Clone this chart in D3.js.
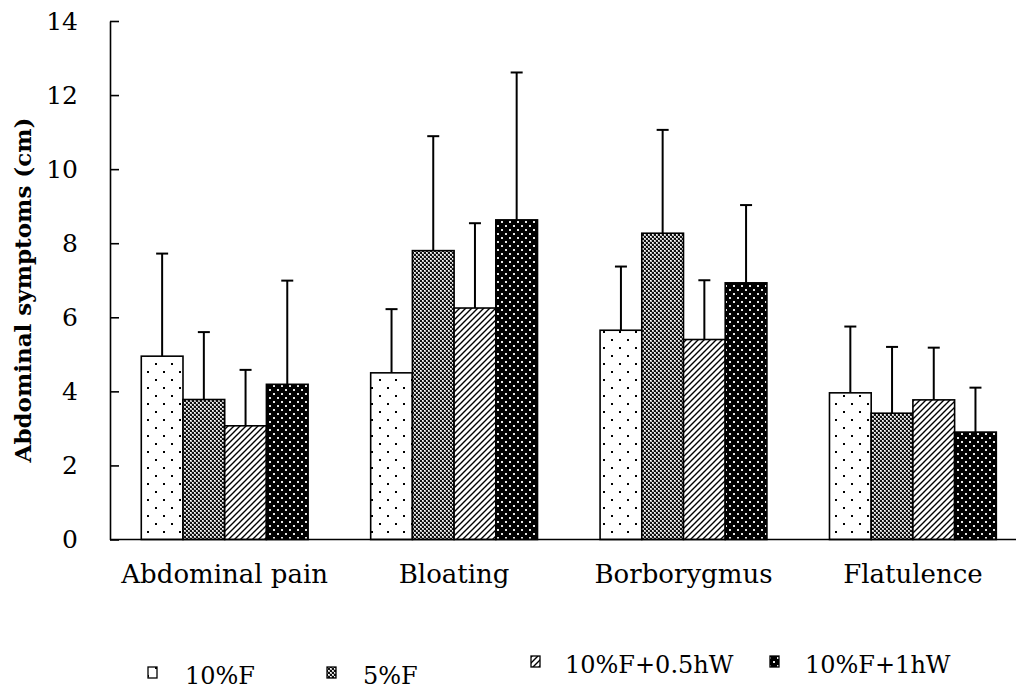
<!DOCTYPE html>
<html>
<head>
<meta charset="utf-8">
<script src="https://cdn.jsdelivr.net/npm/d3@7"></script>
<style>
  html, body { margin: 0; padding: 0; background: #fff; }
  svg { display: block; font-family: "DejaVu Serif", "Liberation Serif", serif; }
</style>
</head>
<body>
<svg id="chart" width="1016" height="692"></svg>
<script>
// Symptom categories and treatment groups
const categories = ["Abdominal pain", "Bloating", "Borborygmus", "Flatulence"];
const seriesNames = ["10%F", "5%F", "10%F+0.5hW", "10%F+1hW"];

// Mean scores (cm) per series, in category order
const means10F      = [4.95, 4.50, 5.65, 3.96];
const means5F       = [3.78, 7.80, 8.27, 3.41];
const means10F05hW  = [3.07, 6.25, 5.40, 3.77];
const means10F1hW   = [4.19, 8.63, 6.93, 2.90];

// Standard deviations (upper error bars)
const sd10F      = [2.77, 1.72, 1.72, 1.79];
const sd5F       = [1.82, 3.09, 2.79, 1.79];
const sd10F05hW  = [1.51, 2.29, 1.60, 1.41];
const sd10F1hW   = [2.80, 3.98, 2.10, 1.20];

const yTicks = [0, 2, 4, 6, 8, 10, 12, 14];

const meanSets = [means10F, means5F, means10F05hW, means10F1hW];
const sdSets = [sd10F, sd5F, sd10F05hW, sd10F1hW];

const rows = [];
categories.forEach((c, ci) => {
  seriesNames.forEach((s, si) => {
    rows.push({ category: c, series: s, si, mean: meanSets[si][ci], sd: sdSets[si][ci] });
  });
});

const svg = d3.select("#chart");
const axisX = 110, axisY0 = 539.5, axisTop = 21;
const groupStep = 229.4;

const x0 = d3.scaleBand().domain(categories)
  .range([axisX, axisX + groupStep * categories.length])
  .paddingInner(0).paddingOuter(0);
const x1 = d3.scaleBand().domain(seriesNames)
  .range([0, x0.bandwidth()])
  .paddingInner(0).paddingOuter(0.75);
const y = d3.scaleLinear().domain([0, 14]).range([axisY0, axisTop]);

// Fill patterns for the four groups
const defs = svg.append("defs");

// sparse dots on white
const pDots = defs.append("pattern").attr("id", "pat0")
  .attr("patternUnits", "userSpaceOnUse").attr("width", 16).attr("height", 16);
pDots.append("rect").attr("width", 16).attr("height", 16).attr("fill", "#fff");
pDots.append("rect").attr("x", 3).attr("y", 3).attr("width", 2).attr("height", 2).attr("fill", "#000");
pDots.append("rect").attr("x", 11).attr("y", 11).attr("width", 2).attr("height", 2).attr("fill", "#000");

// fine checker
const pCheck = defs.append("pattern").attr("id", "pat1")
  .attr("patternUnits", "userSpaceOnUse").attr("width", 4).attr("height", 4);
pCheck.append("rect").attr("width", 4).attr("height", 4).attr("fill", "#bdbdbd");
pCheck.append("rect").attr("x", 0).attr("y", 0).attr("width", 2).attr("height", 2).attr("fill", "#111");
pCheck.append("rect").attr("x", 2).attr("y", 2).attr("width", 2).attr("height", 2).attr("fill", "#111");
pCheck.append("rect").attr("x", 2).attr("y", 0).attr("width", 1).attr("height", 1).attr("fill", "#fff");
pCheck.append("rect").attr("x", 0).attr("y", 2).attr("width", 1).attr("height", 1).attr("fill", "#fff");

// diagonal hatch
const pHatch = defs.append("pattern").attr("id", "pat2")
  .attr("patternUnits", "userSpaceOnUse").attr("width", 6).attr("height", 6);
pHatch.append("rect").attr("width", 6).attr("height", 6).attr("fill", "#fff");
pHatch.append("path").attr("d", "M-1,7 L7,-1 M-4,4 L4,-4 M2,10 L10,2")
  .attr("stroke", "#000").attr("stroke-width", 1.4);

// white dots on black
const pBlack = defs.append("pattern").attr("id", "pat3")
  .attr("patternUnits", "userSpaceOnUse").attr("width", 8).attr("height", 8);
pBlack.append("rect").attr("width", 8).attr("height", 8).attr("fill", "#000");
pBlack.append("rect").attr("x", 1).attr("y", 1).attr("width", 2).attr("height", 2).attr("fill", "#e6e6e6");
pBlack.append("rect").attr("x", 5).attr("y", 5).attr("width", 2).attr("height", 2).attr("fill", "#e6e6e6");

const fills = ["url(#pat0)", "url(#pat1)", "url(#pat2)", "url(#pat3)"];

// error bars (upper only), drawn beneath bars
const eb = svg.append("g").attr("class", "errorbars")
  .attr("stroke", "#000").attr("stroke-width", 2);
rows.forEach(d => {
  const cx = x0(d.category) + x1(d.series) + x1.bandwidth() / 2;
  eb.append("line").attr("x1", cx).attr("x2", cx)
    .attr("y1", y(d.mean)).attr("y2", y(d.mean + d.sd));
  eb.append("line").attr("x1", cx - 6).attr("x2", cx + 6)
    .attr("y1", y(d.mean + d.sd)).attr("y2", y(d.mean + d.sd));
});

// bars
svg.append("g").attr("class", "bars")
  .selectAll("rect").data(rows).join("rect")
  .attr("x", d => x0(d.category) + x1(d.series))
  .attr("y", d => y(d.mean))
  .attr("width", x1.bandwidth())
  .attr("height", d => y(0) - y(d.mean))
  .attr("fill", d => fills[d.si])
  .attr("stroke", "#000").attr("stroke-width", 1.6);

// y axis with inward ticks
const yAxis = d3.axisLeft(y).tickValues(yTicks).tickFormat(d3.format("d"))
  .tickSizeInner(-9).tickSizeOuter(0).tickPadding(32);
const gy = svg.append("g").attr("transform", `translate(${axisX},0)`).call(yAxis);
gy.select(".domain").attr("stroke", "#000").attr("stroke-width", 1.6);
gy.selectAll(".tick line").attr("stroke", "#000").attr("stroke-width", 1.6);
gy.selectAll(".tick text").attr("font-size", 25).attr("fill", "#000")
  .attr("font-family", "DejaVu Serif");

// x axis: baseline and category names
const xAxis = d3.axisBottom(x0).tickSize(0).tickPadding(25).tickSizeOuter(0);
const gx = svg.append("g").attr("transform", `translate(0,${axisY0})`).call(xAxis);
gx.select(".domain").attr("stroke", "#000").attr("stroke-width", 1.6)
  .attr("d", `M${axisX},0H1016`);
gx.selectAll(".tick text").attr("font-size", 26).attr("fill", "#000")
  .attr("font-family", "DejaVu Serif")
  .attr("x", d => x1("5%F") + x1.bandwidth() - x0.bandwidth() / 2);

// y axis title
svg.append("text")
  .attr("transform", "translate(31,290) rotate(-90)")
  .attr("text-anchor", "middle")
  .attr("font-size", 23).attr("font-weight", "bold")
  .attr("font-family", "DejaVu Serif")
  .text("Abdominal symptoms (cm)");

// legend
const legendPos = [
  { x: 148, tx: 185, y: 684 },
  { x: 327, tx: 363, y: 684 },
  { x: 531, tx: 565, y: 673 },
  { x: 770, tx: 805, y: 673 }
];
const lg = svg.append("g").attr("class", "legend");
seriesNames.forEach((s, i) => {
  const p = legendPos[i];
  lg.append("rect").attr("x", p.x).attr("y", p.y - 17).attr("width", 9).attr("height", 11)
    .attr("fill", fills[i]).attr("stroke", "#000").attr("stroke-width", 1.3);
  lg.append("text").attr("x", p.tx).attr("y", p.y)
    .attr("font-size", 24).attr("font-family", "DejaVu Serif")
    .text(s);
});
</script>
</body>
</html>
